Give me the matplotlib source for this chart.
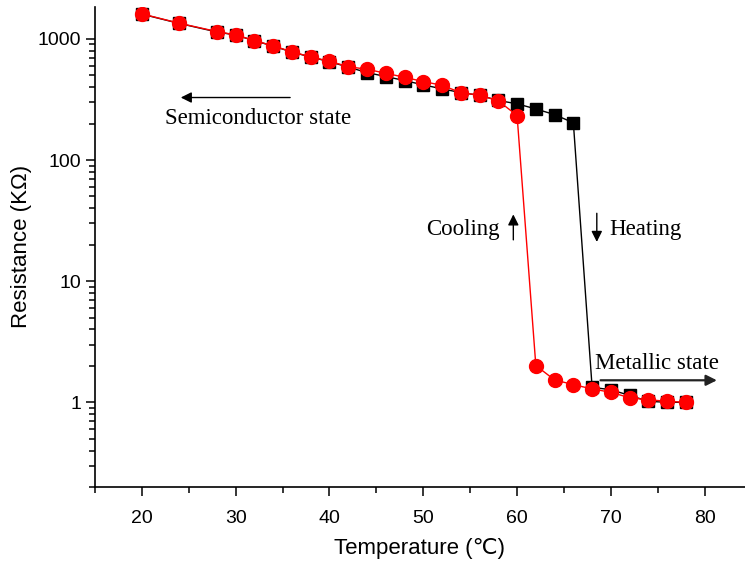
import numpy as np
import matplotlib
matplotlib.use("Agg")
import matplotlib.pyplot as plt
from matplotlib.ticker import FixedLocator, FuncFormatter, MultipleLocator

plt.rcParams['font.family'] = ['Liberation Sans', 'DejaVu Sans']

# temperature (C)
temp = [20, 24, 28, 30, 32, 34, 36, 38, 40, 42, 44, 46, 48, 50, 52, 54, 56, 58,
        60, 62, 64, 66, 68, 70, 72, 74, 76, 78]
# resistance (kOhm)
heating = [1600, 1340, 1140, 1075, 965, 872, 778, 708, 648, 585, 527, 489, 453, 417,
           387, 360, 342, 310, 291, 264, 237, 203, 1.33, 1.27, 1.14, 1.02, 1.0, 1.0]
cooling = [1608, 1345, 1149, 1079, 968, 876, 781, 710, 653, 590, 561, 520, 482, 444,
           414, 360, 343, 308, 233, 2.01, 1.53, 1.40, 1.29, 1.21, 1.09, 1.05, 1.02, 1.0]

y_ticks = [1, 10, 100, 1000]
x_ticks = [20, 30, 40, 50, 60, 70, 80]

fig = plt.figure(figsize=(7.45, 5.69), dpi=100)
ax = fig.add_axes([95/745, (569-487)/569, (745-95)/745, (487-6.5)/569])

ax.plot(temp, heating, color='black', lw=1, marker='s', ms=8.5, zorder=2)
ax.plot(temp, cooling, color='red', lw=1, marker='o', ms=10, zorder=3)

ax.set_yscale('log')
ax.set_xlim(15, 84.3)
ax.set_ylim(0.2, 1850)

ax.xaxis.set_major_locator(FixedLocator(x_ticks))
ax.xaxis.set_minor_locator(MultipleLocator(5))
ax.yaxis.set_major_locator(FixedLocator(y_ticks))
ax.yaxis.set_major_formatter(FuncFormatter(lambda v, p: '%g' % v))
ax.tick_params(which='major', direction='out', length=6.5, width=1.1, labelsize=14)
ax.tick_params(which='minor', direction='out', length=4, width=1.1)
ax.tick_params(axis='x', which='major', pad=10)

for s in ['top', 'right']:
    ax.spines[s].set_visible(False)
for s in ['left', 'bottom']:
    ax.spines[s].set_linewidth(1.2)

ax.set_xlabel('Temperature (\u2103)', fontsize=16, labelpad=8)
ax.set_ylabel('Resistance (K\u03a9)', fontsize=16, labelpad=4)

serif = dict(family='Liberation Serif', fontsize=16.5)
arr = dict(arrowstyle='-|>', color='black', lw=1, mutation_scale=16)

ax.annotate('', xy=(23.85, 328), xytext=(36.1, 328), arrowprops=arr)
ax.text(22.5, 220, 'Semiconductor state', va='center', ha='left', **serif)

ax.text(50.3, 26.7, 'Cooling', va='center', ha='left', **serif)
ax.annotate('', xy=(59.6, 37.5), xytext=(59.6, 20.8), arrowprops=arr)

ax.annotate('', xy=(68.5, 20.0), xytext=(68.5, 38.3), arrowprops=arr)
ax.text(69.8, 26.7, 'Heating', va='center', ha='left', **serif)

ax.text(68.3, 2.1, 'Metallic state', va='center', ha='left', **serif)
ax.annotate('', xy=(81.6, 1.52), xytext=(68.6, 1.52),
            arrowprops=dict(arrowstyle='-|>', color='#222222', lw=1.6, mutation_scale=16))

fig.savefig('out.png', dpi=100)
